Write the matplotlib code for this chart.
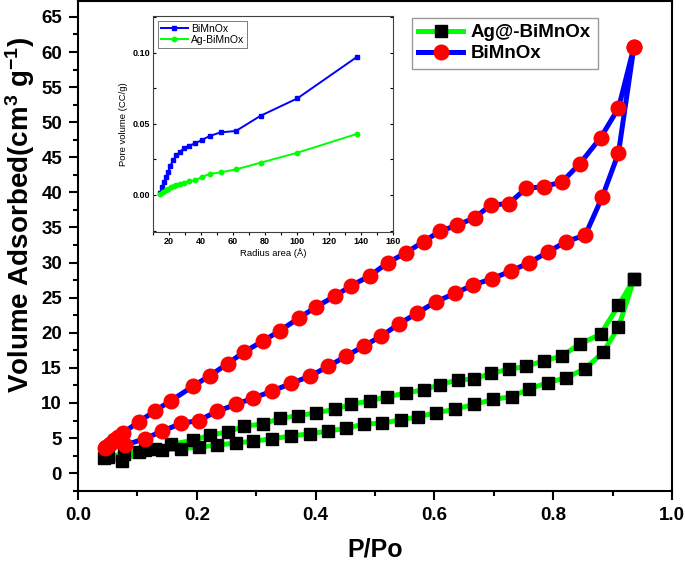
import numpy as np
import matplotlib
matplotlib.use("Agg")
import matplotlib.pyplot as plt
from matplotlib.ticker import MultipleLocator, FormatStrFormatter

plt.rcParams['font.family'] = ['Liberation Sans', 'DejaVu Sans']
plt.rcParams['mathtext.default'] = 'regular'

# ============================
#    DATA
# ============================
# BiMnOx isotherm: adsorption branch (low -> high P/Po)
bi_ads_p = [0.045, 0.079, 0.112, 0.142, 0.174, 0.203, 0.234, 0.266, 0.295, 0.327,
            0.359, 0.390, 0.421, 0.452, 0.481, 0.510, 0.541, 0.571, 0.602, 0.634,
            0.665, 0.697, 0.729, 0.760, 0.791, 0.822, 0.854, 0.883, 0.910, 0.936]
bi_ads_v = [3.6, 4.0, 4.9, 6.0, 7.1, 7.5, 8.8, 9.8, 10.7, 11.7,
            12.8, 13.8, 15.2, 16.7, 18.1, 19.5, 21.3, 22.8, 24.4, 25.6,
            26.8, 27.7, 28.8, 30.0, 31.5, 33.0, 33.9, 39.4, 45.6, 60.7]
# BiMnOx desorption branch (high -> low P/Po)
bi_des_p = [0.936, 0.910, 0.880, 0.845, 0.815, 0.784, 0.755, 0.725, 0.695, 0.668,
            0.638, 0.610, 0.582, 0.552, 0.522, 0.491, 0.460, 0.432, 0.401, 0.372,
            0.340, 0.311, 0.280, 0.252, 0.222, 0.194, 0.156, 0.130, 0.102, 0.075,
            0.068, 0.061, 0.054, 0.047]
bi_des_v = [60.7, 52.0, 47.8, 44.1, 41.5, 40.8, 40.6, 38.4, 38.2, 36.4,
            35.3, 34.5, 33.0, 31.4, 30.0, 28.1, 26.7, 25.2, 23.7, 22.1,
            20.3, 18.8, 17.3, 15.6, 13.9, 12.4, 10.3, 8.9, 7.3, 5.7,
            5.2, 4.7, 4.2, 3.7]

# Ag@-BiMnOx isotherm: adsorption branch
ag_ads_p = [0.044, 0.074, 0.112, 0.142, 0.174, 0.203, 0.234, 0.266, 0.295, 0.327,
            0.359, 0.390, 0.421, 0.452, 0.481, 0.512, 0.543, 0.572, 0.602, 0.635,
            0.666, 0.699, 0.730, 0.760, 0.791, 0.822, 0.854, 0.884, 0.910, 0.936]
ag_ads_v = [2.2, 1.7, 3.3, 3.3, 3.5, 3.7, 4.0, 4.3, 4.55, 4.9,
            5.3, 5.6, 6.0, 6.4, 7.0, 7.1, 7.6, 8.0, 8.6, 9.1,
            9.8, 10.5, 10.9, 12.0, 12.9, 13.6, 14.9, 17.2, 20.8, 27.6]
# Ag@-BiMnOx desorption branch
ag_des_p = [0.936, 0.910, 0.880, 0.845, 0.815, 0.784, 0.754, 0.725, 0.695, 0.667,
            0.639, 0.610, 0.582, 0.552, 0.521, 0.491, 0.460, 0.432, 0.401, 0.371,
            0.340, 0.311, 0.280, 0.252, 0.222, 0.194, 0.157, 0.130, 0.102, 0.078,
            0.050]
ag_des_v = [27.6, 23.9, 19.8, 18.4, 16.7, 16.0, 15.2, 14.8, 14.2, 13.4,
            13.3, 12.6, 11.9, 11.4, 10.9, 10.3, 9.8, 9.1, 8.6, 8.2,
            7.8, 7.0, 6.7, 5.9, 5.4, 4.7, 4.1, 3.4, 3.0, 2.8,
            2.3]

# Inset: pore size distribution
pore_r_bi = [14.4, 15.8, 17.1, 18.3, 19.6, 21.0, 22.7, 24.8, 27.1, 29.6,
             32.7, 36.5, 40.6, 45.6, 52.3, 61.9, 77.3, 100.2, 137.3]
pore_v_bi = [0.0016, 0.0054, 0.0094, 0.0129, 0.0160, 0.0206, 0.0244, 0.0279, 0.0304, 0.0328,
             0.0347, 0.0363, 0.0386, 0.0415, 0.0440, 0.0450, 0.0557, 0.0679, 0.0970]
pore_r_ag = [14.8, 16.5, 18.1, 19.8, 21.5, 23.1, 24.8, 26.9, 29.6, 32.7,
             36.5, 40.6, 45.6, 52.3, 61.9, 77.3, 100.2, 137.3]
pore_v_ag = [0.0007, 0.0021, 0.0033, 0.0044, 0.0054, 0.0063, 0.0070, 0.0080, 0.0087, 0.0098,
             0.0103, 0.0126, 0.0148, 0.0159, 0.0180, 0.0227, 0.0297, 0.0429]

# ============================
#    MAIN PLOT
# ============================
fig = plt.figure(figsize=(6.85, 5.63), dpi=100)
ax = fig.add_axes([0.1139, 0.1284, 0.867, 0.8690])

# Ag@-BiMnOx (green line, black squares)
ag_p = ag_ads_p + ag_des_p
ag_v = ag_ads_v + ag_des_v
ax.plot(ag_p, ag_v, color='#00ff00', lw=3.6, marker='s', ms=8.5,
        mfc='black', mec='black', label='Ag@-BiMnOx', zorder=2)

# BiMnOx (blue line, red circles)
bi_p = bi_ads_p + bi_des_p
bi_v = bi_ads_v + bi_des_v
ax.plot(bi_p, bi_v, color='#0000ff', lw=3.6, marker='o', ms=10.5,
        mfc='#ff0000', mec='#ff0000', label='BiMnOx', zorder=3)

ax.set_xlim(0, 1.0)
ax.set_ylim(-2.5, 67.2)
ax.xaxis.set_major_locator(MultipleLocator(0.2))
ax.xaxis.set_minor_locator(MultipleLocator(0.1))
ax.yaxis.set_major_locator(MultipleLocator(5))
ax.yaxis.set_minor_locator(MultipleLocator(2.5))
ax.xaxis.set_major_formatter(FormatStrFormatter('%.1f'))

for s in ax.spines.values():
    s.set_linewidth(1.5)
ax.tick_params(which='major', direction='out', length=6.5, width=1.5,
               labelsize=13.5, pad=5)
ax.tick_params(which='minor', direction='out', length=3.5, width=1.5)
for lab in ax.get_xticklabels() + ax.get_yticklabels():
    lab.set_fontweight('bold')

ax.set_xlabel('P/Po', fontsize=18, fontweight='bold', labelpad=10)
ax.set_ylabel('Volume Adsorbed(cm$^{3}$ g$^{-1}$)', fontsize=20,
              fontweight='bold')
ax.yaxis.set_label_coords(-0.069, 0.563)

leg = ax.legend(loc='upper right', bbox_to_anchor=(0.875, 0.967),
                prop={'weight': 'bold', 'size': 13.5}, frameon=True, fancybox=False,
                handlelength=2.4, borderpad=0.35, labelspacing=0.2,
                handletextpad=0.4, borderaxespad=0.0)
leg.get_frame().set_edgecolor('#808080')
leg.get_frame().set_linewidth(1.0)

# ============================
#    INSET
# ============================
ins = fig.add_axes([0.223, 0.588, 0.351, 0.384])
ins.plot(pore_r_bi, pore_v_bi, color='#0000ff', lw=1.4, marker='s', ms=3.2,
         label='BiMnOx')
ins.plot(pore_r_ag, pore_v_ag, color='#00ff00', lw=1.4, marker='o', ms=3.2,
         label='Ag-BiMnOx')
ins.set_xlim(10, 160)
ins.set_ylim(-0.026, 0.126)
ins.xaxis.set_major_locator(MultipleLocator(20))
ins.xaxis.set_minor_locator(MultipleLocator(10))
ins.set_yticks([0.0, 0.05, 0.10])
ins.yaxis.set_minor_locator(MultipleLocator(0.025))
ins.yaxis.set_major_formatter(FormatStrFormatter('%.2f'))
for s in ins.spines.values():
    s.set_linewidth(0.8)
    s.set_color('#404040')
ins.tick_params(axis='x', which='both', direction='out', length=2, width=0.8,
                labelsize=6.5, pad=1.5)
ins.tick_params(axis='y', which='both', direction='in', length=2.5, width=0.8,
                labelsize=6.5, pad=2, right=True)
for lab in ins.get_xticklabels() + ins.get_yticklabels():
    lab.set_fontweight('bold')
ins.set_xlabel('Radius area (Å)', fontsize=6.8, labelpad=2)
ins.set_ylabel('Pore volume (CC/g)', fontsize=6.8, labelpad=3)
ileg = ins.legend(loc='upper left', fontsize=7.5, frameon=True, fancybox=False,
                  handlelength=2.6, borderpad=0.25, labelspacing=0.15,
                  handletextpad=0.3, borderaxespad=0.5)
ileg.get_frame().set_edgecolor('#404040')
ileg.get_frame().set_linewidth(0.6)

fig.savefig('out.png', dpi=100)
